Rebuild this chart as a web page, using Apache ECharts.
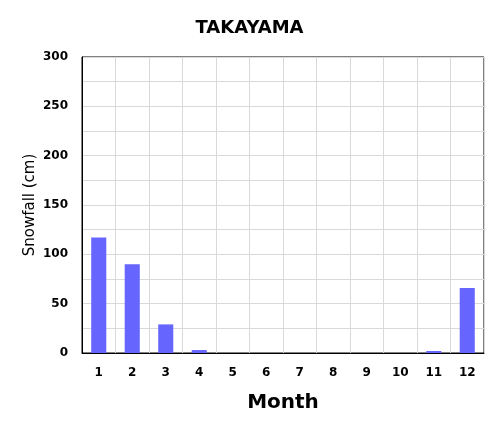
<!DOCTYPE html>
<html>
<head>
<meta charset="utf-8">
<script src="https://cdn.jsdelivr.net/npm/echarts@6/dist/echarts.min.js"></script>
<style>
  html, body { margin: 0; padding: 0; background: #fff; }
  #chart { width: 499px; height: 433px; }
</style>
</head>
<body>
<div id="chart"></div>
<script>
// monthly snowfall, Takayama
const months = ['1', '2', '3', '4', '5', '6', '7', '8', '9', '10', '11', '12'];
const snowfall = [117, 90, 29, 3, 0, 0, 0, 0, 0, 0, 2, 66];

const chart = echarts.init(document.getElementById('chart'));
const font = 'Verdana, "DejaVu Sans", sans-serif';

chart.setOption({
  animation: false,
  title: {
    text: 'TAKAYAMA',
    left: 'center',
    top: 14,
    textStyle: { fontFamily: font, fontSize: 18, fontWeight: 'bold', color: '#000' }
  },
  grid: {
    left: 82, right: 15, top: 57, bottom: 80,
    show: true, borderColor: '#000', borderWidth: 1
  },
  xAxis: {
    type: 'category',
    data: months,
    name: 'Month',
    nameLocation: 'middle',
    nameGap: 40,
    nameMoveOverlap: false,
    nameTextStyle: { fontFamily: font, fontSize: 20, fontWeight: 'bold', color: '#000' },
    axisLine: { lineStyle: { color: '#000' } },
    axisTick: { show: false },
    axisLabel: { fontFamily: font, fontSize: 12, fontWeight: 'bold', color: '#000', margin: 14 },
    splitLine: { show: true, lineStyle: { color: '#d9d9d9' } }
  },
  yAxis: {
    type: 'value',
    min: 0, max: 300, interval: 25,
    name: 'Snowfall (cm)',
    nameLocation: 'middle',
    nameGap: 44,
    nameMoveOverlap: false,
    nameTextStyle: { fontFamily: font, fontSize: 15, color: '#000' },
    axisLine: { show: true, lineStyle: { color: '#000' } },
    axisTick: { show: false },
    axisLabel: {
      fontFamily: font, fontSize: 12, fontWeight: 'bold', color: '#000', margin: 14,
      formatter: v => (v % 50 === 0 ? String(v) : '')
    },
    splitLine: { show: true, lineStyle: { color: '#d9d9d9' } }
  },
  series: [{
    type: 'bar',
    data: snowfall,
    barWidth: '45%',
    itemStyle: { color: '#6666ff' }
  }]
});
</script>
</body>
</html>
